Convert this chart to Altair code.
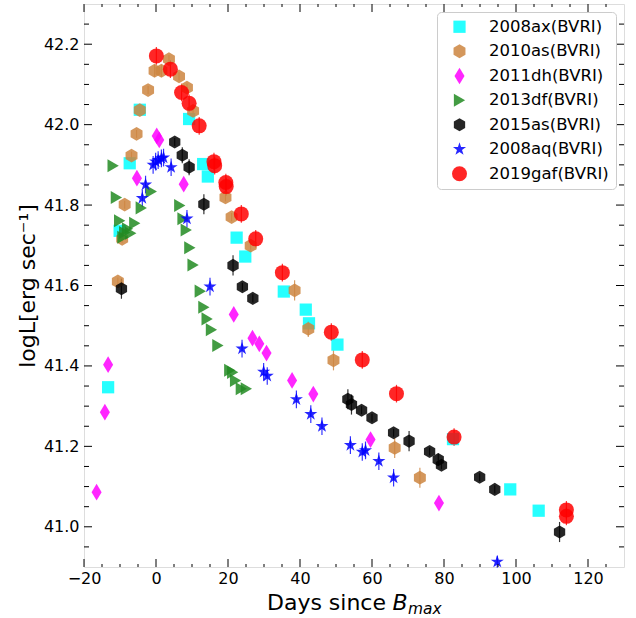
import altair as alt
import pandas as pd

# ---------------- data ----------------
names = ["2008ax(BVRI)", "2010as(BVRI)", "2011dh(BVRI)", "2013df(BVRI)",
         "2015as(BVRI)", "2008aq(BVRI)", "2019gaf(BVRI)"]

ax_days = [-13.3, -10.1, -7.3, -4.5, 9.2, 13.1, 14.4, 22.4, 24.8, 35.5, 41.6, 42.5, 50.4, 82.5, 98.4, 106.3]
ax_logL = [41.347, 41.736, 41.904, 42.037, 42.014, 41.902, 41.871, 41.719, 41.672, 41.585, 41.540, 41.506,
           41.453, 41.218, 41.093, 41.040]
ax_err = [0.0] * 16

as_days = [-10.6, -9.4, -8.7, -6.8, -5.4, -4.5, -2.2, -0.4, 1.5, 3.6, 6.4, 8.6, 10.3, 19.3, 21.0, 26.3,
           38.5, 42.3, 49.3, 66.3, 73.3]
as_logL = [41.610, 41.716, 41.801, 41.923, 41.977, 42.036, 42.086, 42.134, 42.134, 42.163, 42.120, 42.092,
           42.034, 41.819, 41.770, 41.699, 41.588, 41.492, 41.414, 41.196, 41.122]
as_err = [0.01, 0.01, 0.01, 0.01, 0.01, 0.01, 0.01, 0.015, 0.015, 0.01, 0.01, 0.01, 0.01, 0.01, 0.01, 0.01,
          0.025, 0.02, 0.025, 0.025, 0.025]

dh_days = [-16.5, -14.2, -13.3, -5.3, 0.2, 0.9, 7.7, 21.6, 26.8, 28.7, 30.7, 37.8, 43.7, 59.6, 78.6]
dh_logL = [41.086, 41.285, 41.403, 41.867, 41.972, 41.962, 41.852, 41.528, 41.469, 41.455, 41.432, 41.364,
           41.330, 41.217, 41.059]
dh_err = [0.0] * 15

df_days = [-11.9, -11.0, -10.1, -9.2, -8.7, -7.9, -7.0, -5.9, -4.1, -1.3, 6.6, 7.5, 8.4, 9.4, 10.3, 12.3,
           13.3, 14.2, 15.4, 17.2, 20.5, 21.3, 22.1, 23.7, 25.1]
df_logL = [41.898, 41.819, 41.761, 41.720, 41.732, 41.741, 41.730, 41.755, 41.793, 41.834, 41.799, 41.766,
           41.738, 41.694, 41.651, 41.586, 41.546, 41.517, 41.490, 41.451, 41.389, 41.384, 41.364, 41.343,
           41.343]
df_err = [0.0] * 25

as15_days = [-9.6, 5.2, 7.3, 9.2, 13.3, 21.4, 24.0, 26.9, 53.3, 54.3, 57.1, 60.0, 66.0, 70.3, 76.0, 78.4,
             79.3, 89.9, 94.1, 112.1]
as15_logL = [41.592, 41.957, 41.924, 41.894, 41.802, 41.650, 41.597, 41.568, 41.317, 41.304, 41.290, 41.271,
             41.234, 41.213, 41.187, 41.167, 41.153, 41.123, 41.093, 40.987]
as15_err = [0.025, 0.01, 0.02, 0.02, 0.025, 0.025, 0.01, 0.01, 0.025, 0.025, 0.01, 0.01, 0.01, 0.025, 0.01,
            0.015, 0.01, 0.01, 0.01, 0.025]

aq_days = [-3.8, -2.9, -0.8, -0.1, 0.6, 1.5, 2.1, 4.2, 8.6, 15.0, 23.9, 29.9, 30.9, 39.0, 43.0, 46.1, 54.0,
           57.3, 58.2, 61.9, 66.0, 94.8]
aq_logL = [41.817, 41.851, 41.900, 41.908, 41.912, 41.916, 41.918, 41.894, 41.766, 41.597, 41.443, 41.385,
           41.375, 41.317, 41.280, 41.250, 41.203, 41.186, 41.190, 41.163, 41.122, 40.913]
aq_err = [0.022] * 21 + [0.015]

gaf_days = [0.1, 4.0, 7.1, 9.2, 12.0, 16.1, 16.3, 19.4, 19.5, 23.7, 27.7, 35.1, 48.7, 57.3, 66.8, 82.8,
            114.0, 114.0]
gaf_logL = [42.171, 42.138, 42.080, 42.053, 41.997, 41.908, 41.898, 41.856, 41.846, 41.778, 41.716, 41.632,
            41.484, 41.415, 41.331, 41.223, 41.042, 41.026]
gaf_err = [0.022] * 18

x_major = [-20, 0, 20, 40, 60, 80, 100, 120]
y_major = [41.0, 41.2, 41.4, 41.6, 41.8, 42.0, 42.2]

# ---------------- styles ----------------
colors = ["#00FFFF", "#CD853F", "#FF00FF", "#228B22", "#000000", "#0000FF", "#FF0000"]
HEX = "M0,-1L0.866,-0.5L0.866,0.5L0,1L-0.866,0.5L-0.866,-0.5Z"
THIN_DIAMOND = "M0,-1L0.6,0L0,1L-0.6,0Z"
STAR = ("M0,-1L0.225,-0.309L0.951,-0.309L0.363,0.118L0.588,0.809L0,0.382"
        "L-0.588,0.809L-0.363,0.118L-0.951,-0.309L-0.225,-0.309Z")
shapes = ["square", HEX, THIN_DIAMOND, "triangle-right", HEX, STAR, "circle"]
sizes = [150, 190, 280, 170, 170, 190, 225]

series = [
    (names[0], ax_days, ax_logL, ax_err),
    (names[1], as_days, as_logL, as_err),
    (names[2], dh_days, dh_logL, dh_err),
    (names[3], df_days, df_logL, df_err),
    (names[4], as15_days, as15_logL, as15_err),
    (names[5], aq_days, aq_logL, aq_err),
    (names[6], gaf_days, gaf_logL, gaf_err),
]
rows = []
for name, ds, ls, es in series:
    for d, l, e in zip(ds, ls, es):
        rows.append({"series": name, "day": d, "logL": l, "lo": l - e, "hi": l + e, "err": e})
data = pd.DataFrame(rows)

x_minor = [v for v in range(-15, 130, 5) if v % 20 != 0]
y_minor = [round(40.9 + 0.05 * i, 2) for i in range(1, 28)]
y_minor = [v for v in y_minor if abs(v * 5 - round(v * 5)) > 1e-6]

W, H = 540, 563
FONT = "DejaVu Sans"
YTITLE = "logL[erg sec\u207b\u00b9]"
xs = alt.Scale(domain=[-20, 130], nice=False, zero=False)
ys = alt.Scale(domain=[40.9, 42.3], nice=False, zero=False)
cscale = alt.Scale(domain=names, range=colors)
sscale = alt.Scale(domain=names, range=shapes)
zscale = alt.Scale(type="ordinal", domain=names, range=sizes)

legend = alt.Legend(title=None, orient="none", legendX=353, legendY=8,
                    labelFontSize=16.5, labelFont=FONT, labelColor="black",
                    padding=6.5, rowPadding=7.5, symbolOffset=7.5, labelOffset=21,
                    strokeColor="#cccccc", fillColor="white", cornerRadius=4,
                    symbolStrokeWidth=0, symbolOpacity=0.85)

x_axis = alt.Axis(values=x_major, title="", ticks=False, grid=False, domain=False, labelFlush=False,
                  labelFontSize=16, labelFont=FONT, labelColor="black", labelPadding=3)
y_axis = alt.Axis(values=y_major, format=".1f", title=YTITLE, ticks=False, labelFlush=False,
                  grid=False, domain=False, labelFontSize=16, labelFont=FONT, labelColor="black",
                  labelPadding=5, titleFontSize=22, titleFont=FONT, titleFontWeight="normal",
                  titleColor="black", titlePadding=4)


def X(field):
    return alt.X(field, type="quantitative", scale=xs, axis=x_axis)


def Y(field):
    return alt.Y(field, type="quantitative", scale=ys, axis=y_axis, title=YTITLE)


layers = []
# error bars, one layer per series that has them
for (name, ds, ls, es), col in zip(series, colors):
    sub = data[(data["series"] == name) & (data["err"] > 0)]
    if len(sub):
        layers.append(alt.Chart(sub).mark_rule(color=col, strokeWidth=1.2, opacity=0.8).encode(
            x=X("day"), y=Y("lo"), y2="hi"))

points = alt.Chart(data).mark_point(filled=True, opacity=0.85, strokeWidth=0).encode(
    x=X("day"),
    y=Y("logL"),
    color=alt.Color("series:N", scale=cscale, legend=legend),
    shape=alt.Shape("series:N", scale=sscale, legend=legend),
    size=alt.Size("series:N", scale=zscale, legend=legend),
)
layers.append(points)


def xticks(vals, length):
    d = pd.DataFrame({"day": vals})
    bot = alt.Chart(d).mark_rule(color="black", strokeWidth=1).encode(
        x=X("day"), y=alt.value(H), y2=alt.value(H - length))
    top = alt.Chart(d).mark_rule(color="black", strokeWidth=1).encode(
        x=X("day"), y=alt.value(0), y2=alt.value(length))
    return [bot, top]


def yticks(vals, length):
    d = pd.DataFrame({"logL": vals})
    left = alt.Chart(d).mark_rule(color="black", strokeWidth=1).encode(
        y=Y("logL"), x=alt.value(0), x2=alt.value(length))
    right = alt.Chart(d).mark_rule(color="black", strokeWidth=1).encode(
        y=Y("logL"), x=alt.value(W), x2=alt.value(W - length))
    return [left, right]


layers += xticks(x_major, 8) + xticks(x_minor, 3) + yticks(y_major, 8) + yticks(y_minor, 5)

one = pd.DataFrame({"a": [0]})
layers.append(alt.Chart(one).mark_text(text="Days since", align="right", baseline="alphabetic", fontSize=22,
                                       font=FONT, color="black").encode(x=alt.value(302), y=alt.value(606)))
layers.append(alt.Chart(one).mark_text(text="B", align="left", baseline="alphabetic", fontSize=22, font=FONT,
                                       fontStyle="italic", color="black").encode(x=alt.value(308.5),
                                                                                 y=alt.value(606)))
layers.append(alt.Chart(one).mark_text(text="max", align="left", baseline="alphabetic", fontSize=15.4,
                                       font=FONT, fontStyle="italic", color="black").encode(
    x=alt.value(324), y=alt.value(610)))

chart = alt.layer(*layers).properties(
    width=W, height=H,
    autosize=alt.AutoSizeParams(type="none"),
    padding={"left": 84, "top": 4, "right": 12, "bottom": 51},
).configure_view(stroke="black", strokeWidth=1).configure(font=FONT)

chart.save("out.html", embed_options={"renderer": "svg", "actions": False})
